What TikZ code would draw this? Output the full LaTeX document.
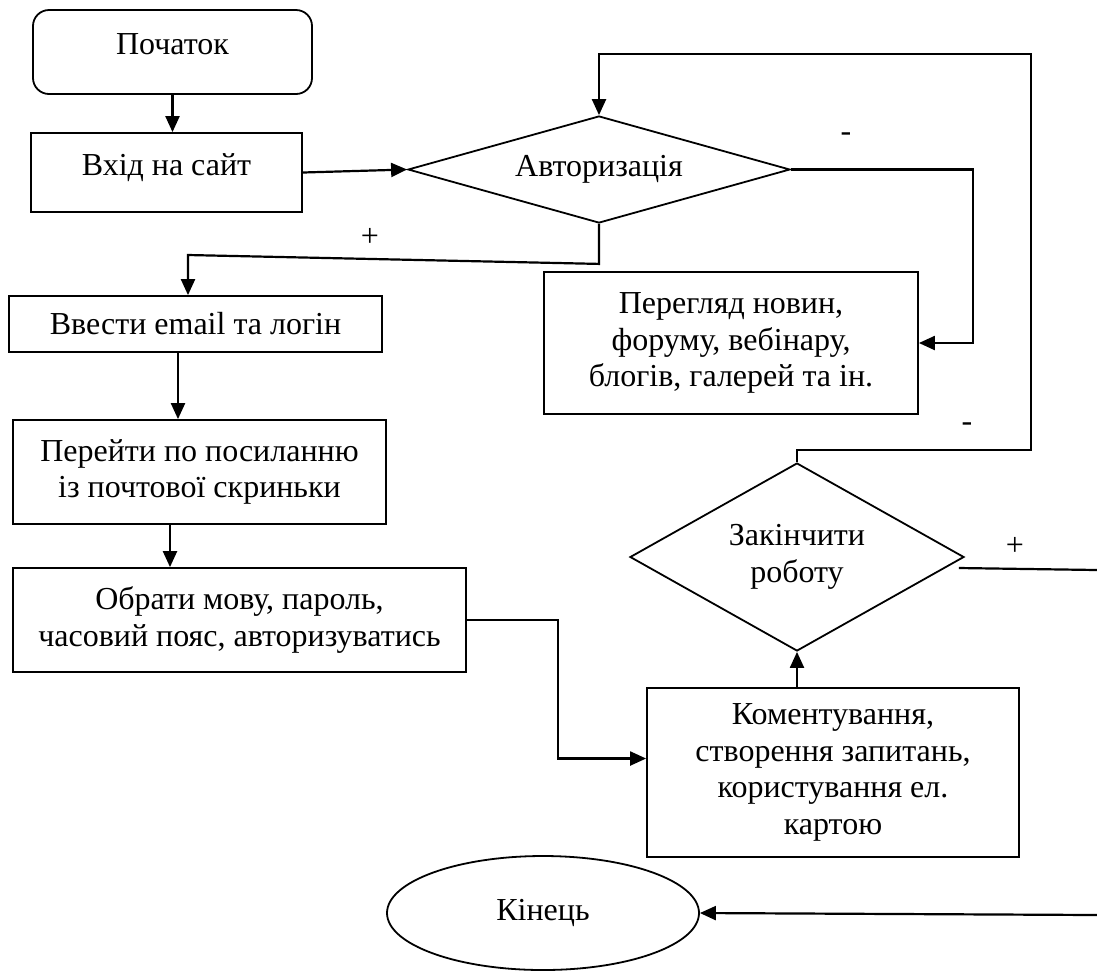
\documentclass[tikz,border=0pt]{standalone}
\usepackage{fontspec}
\setmainfont{Liberation Serif}
\usetikzlibrary{shapes.geometric,arrows.meta}

\begin{document}
\begin{tikzpicture}[
    x=0.5pt, y=-0.5pt,
    font=\fontsize{16}{18.4}\selectfont,
    blok/.style={draw, line width=0.9pt, rectangle, inner sep=0pt, align=center},
    umova/.style={draw, line width=0.9pt, diamond, inner sep=0pt, align=center},
    potik/.style={line width=1.1pt},
    strilka/.style={potik, -{Triangle[length=8pt,width=7pt]}}
  ]
  \useasboundingbox (0,0) rectangle (1097,971);

  % blocks
  \node[blok, rounded corners=8pt, minimum width=139.5pt, minimum height=42pt, text depth=8pt]
    (pochatok) at (172.5,52) {Початок};
  \node[blok, minimum width=135.5pt, minimum height=39.5pt, text depth=8pt]
    (vhid) at (166.5,172.5) {Вхід на сайт};
  \node[umova, shape aspect=3.57, minimum width=191pt, minimum height=53.5pt]
    (avt) at (599,169.5) {Авторизація};
  \node[blok, minimum width=187pt, minimum height=71pt]
    (pereglyad) at (731,343) {Перегляд новин,\\ форуму, вебінару,\\ блогів, галерей та ін.};
  \node[blok, minimum width=186.5pt, minimum height=28pt]
    (vvesty) at (195.5,324) {Ввести email та логін};
  \node[blok, minimum width=186.5pt, minimum height=52pt]
    (pereyty) at (199.5,472) {Перейти по посиланню\\ із почтової скриньки};
  \node[blok, minimum width=226.5pt, minimum height=52pt]
    (obraty) at (239.5,620) {Обрати мову, пароль,\\ часовий пояс, авторизуватись};
  \node[blok, minimum width=186pt, minimum height=84.5pt]
    (koment) at (833,772.5) {Коментування,\\ створення запитань,\\ користування ел.\\ картою};
  \node[umova, shape aspect=1.78, minimum width=167pt, minimum height=94pt]
    (zakinch) at (797,557) {Закінчити\\ роботу};
  \node[draw, line width=0.9pt, ellipse, inner sep=0pt, minimum width=156pt, minimum height=57pt]
    (kinec) at (543,913) {Кінець};

  % labels
  \node (minusA) at (846,137) {-};
  \node (plusA) at (370,237) {+};
  \node (minusB) at (967,427) {-};
  \node (plusB) at (1015,546) {+};

  \coordinate (kutA) at (1031,54);
  \coordinate (kutB) at (1031,450);
  \coordinate (kutC) at (973,169.5);
  \coordinate (kutD) at (188,255);
  \coordinate (kutE) at (1097,570);
  \coordinate (kutF) at (1097,915);

  % connectors
  \draw[strilka] (pochatok.south) -- (pochatok.south |- vhid.north);
  \draw[strilka] (vhid.east) -- (avt.west);
  \draw[strilka] (avt.east) -- (kutC) -- (kutC |- pereglyad.east) -- (pereglyad.east);
  \draw[strilka] (avt.south) -- ++(0,40) -- (kutD) -- (kutD |- vvesty.north);
  \draw[strilka] ([xshift=-8.75pt]vvesty.south) -- ([xshift=-8.75pt]vvesty.south |- pereyty.north);
  \draw[strilka] ([xshift=-14.75pt]pereyty.south) -- ([xshift=-14.75pt]pereyty.south |- obraty.north);
  \draw[strilka] (obraty.east) -- ++(91,0) |- ([yshift=7pt]koment.west);
  \draw[strilka] (koment.north -| zakinch.south) -- (zakinch.south);
  \draw[strilka] (zakinch.north) -- (zakinch.north |- kutB) -- (kutB) -- (kutA)
    -- (kutA -| avt.north) -- (avt.north);
  \draw[potik] ([shift={(-3pt,-5.5pt)}]zakinch.east) -- (kutE);
  \draw[strilka] (kutF) -- (kinec.east);
\end{tikzpicture}
\end{document}
